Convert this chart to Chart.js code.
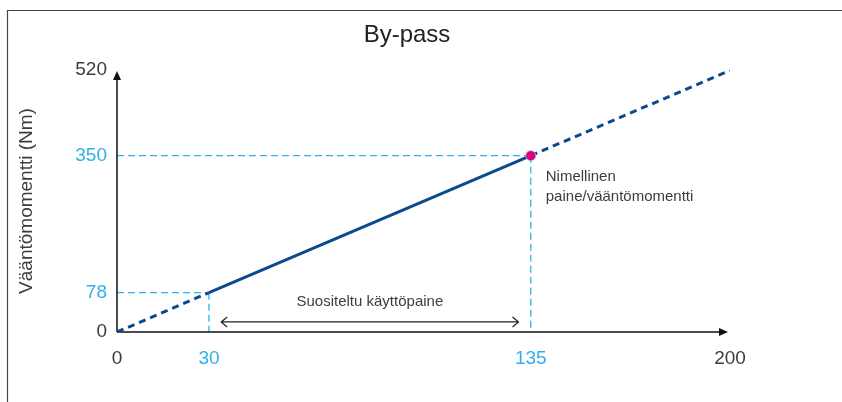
<!DOCTYPE html>
<html>
<head>
<meta charset="utf-8">
<script src="https://cdn.jsdelivr.net/npm/chart.js@4.4.0/dist/chart.umd.min.js"></script>
<style>
  html, body { margin: 0; padding: 0; background: #fff; }
  #wrap { width: 842px; height: 402px; position: relative; }
</style>
</head>
<body>
<div id="wrap"><canvas id="bypass"></canvas></div>
<script>
// data
const pressure = [0, 30, 135, 200];
const torque = [0, 78, 350, 519];
const xTicks = [0, 30, 135, 200];
const yTicks = [0, 78, 350, 520];
const xMarked = [30, 135];
const yMarked = [78, 350];
const ratedPoint = [{ x: 135, y: 350 }];
const recommendedRange = [34, 131];
const recommendedLevel = 20;

const titleText = "By-pass";
const yTitle = "Vääntömomentti (Nm)";
const rangeText = "Suositeltu käyttöpaine";
const ratedText = ["Nimellinen", "paine/vääntömomentti"];

const navy = "#0b4a8c";
const lightBlue = "#2fb1e8";
const magenta = "#e2007a";
const textGray = "#3c3c3c";
const font = "'Liberation Sans', Arial, sans-serif";

const lineData = pressure.map((p, i) => ({ x: p, y: torque[i] }));

const decorations = {
  id: "decorations",
  beforeDatasetsDraw(chart) {
    const ctx = chart.ctx;
    const xs = chart.scales.x;
    const ys = chart.scales.y;
    const x0 = xs.getPixelForValue(0);
    const y0 = ys.getPixelForValue(0);

    // frame
    ctx.save();
    ctx.strokeStyle = "#444";
    ctx.lineWidth = 1.2;
    ctx.beginPath();
    ctx.moveTo(7.5, 402);
    ctx.lineTo(7.5, 10.5);
    ctx.lineTo(842, 10.5);
    ctx.stroke();

    // guide lines to the marked values
    ctx.strokeStyle = lightBlue;
    ctx.lineWidth = 1.3;
    ctx.setLineDash([7, 4]);
    xMarked.forEach((xv, i) => {
      const px = xs.getPixelForValue(xv);
      const py = ys.getPixelForValue(yMarked[i]);
      ctx.beginPath();
      ctx.moveTo(x0, py);
      ctx.lineTo(px, py);
      ctx.moveTo(px, py);
      ctx.lineTo(px, y0);
      ctx.stroke();
    });
    ctx.setLineDash([]);

    // axes with arrow heads
    const xEnd = xs.getPixelForValue(200);
    const yEnd = ys.getPixelForValue(520);
    ctx.strokeStyle = "#111";
    ctx.fillStyle = "#111";
    ctx.lineWidth = 1.5;
    ctx.beginPath();
    ctx.moveTo(x0, y0);
    ctx.lineTo(xEnd - 6, y0);
    ctx.moveTo(x0, y0);
    ctx.lineTo(x0, yEnd + 6);
    ctx.stroke();
    ctx.beginPath();
    ctx.moveTo(xEnd - 2, y0);
    ctx.lineTo(xEnd - 11, y0 - 4);
    ctx.lineTo(xEnd - 11, y0 + 4);
    ctx.closePath();
    ctx.fill();
    ctx.beginPath();
    ctx.moveTo(x0, yEnd + 1);
    ctx.lineTo(x0 - 4, yEnd + 10);
    ctx.lineTo(x0 + 4, yEnd + 10);
    ctx.closePath();
    ctx.fill();

    // recommended range double arrow
    const ax1 = xs.getPixelForValue(recommendedRange[0]);
    const ax2 = xs.getPixelForValue(recommendedRange[1]);
    const ay = ys.getPixelForValue(recommendedLevel);
    ctx.strokeStyle = "#222";
    ctx.lineWidth = 1.2;
    ctx.beginPath();
    ctx.moveTo(ax1, ay);
    ctx.lineTo(ax2, ay);
    ctx.moveTo(ax1 + 6, ay - 5);
    ctx.lineTo(ax1, ay);
    ctx.lineTo(ax1 + 6, ay + 5);
    ctx.moveTo(ax2 - 6, ay - 5);
    ctx.lineTo(ax2, ay);
    ctx.lineTo(ax2 - 6, ay + 5);
    ctx.stroke();
    ctx.restore();
  },
  afterDatasetsDraw(chart) {
    const ctx = chart.ctx;
    const xs = chart.scales.x;
    const ys = chart.scales.y;
    ctx.save();
    ctx.fillStyle = "#222";
    ctx.textAlign = "center";
    ctx.textBaseline = "middle";
    ctx.font = "24px " + font;
    ctx.fillText(titleText, 407, 35);

    ctx.fillStyle = textGray;
    ctx.font = "19px " + font;
    ctx.save();
    ctx.translate(27, (chart.chartArea.top + chart.chartArea.bottom) / 2);
    ctx.rotate(-Math.PI / 2);
    ctx.fillText(yTitle, 0, 0);
    ctx.restore();

    ctx.font = "15px " + font;
    const mid = xs.getPixelForValue((recommendedRange[0] + recommendedRange[1]) / 2);
    ctx.fillText(rangeText, mid, ys.getPixelForValue(recommendedLevel) - 20);

    ctx.textAlign = "left";
    const rx = xs.getPixelForValue(ratedPoint[0].x) + 15;
    const ry = ys.getPixelForValue(ratedPoint[0].y);
    ratedText.forEach((t, i) => ctx.fillText(t, rx, ry + 21 + i * 20));
    ctx.restore();
  }
};

new Chart(document.getElementById("bypass"), {
  type: "scatter",
  data: {
    datasets: [
      {
        data: ratedPoint,
        pointRadius: 5,
        pointBackgroundColor: magenta,
        pointBorderColor: "#7fd0f0",
        pointBorderWidth: 0.8,
        order: 0,
      },
      {
        data: lineData,
        showLine: true,
        borderColor: navy,
        borderWidth: 3,
        pointRadius: 0,
        segment: {
          borderDash: (c) => (c.p0DataIndex === 1 ? [] : [7, 5]),
        },
        order: 1,
      },
    ],
  },
  options: {
    responsive: true,
    maintainAspectRatio: false,
    animation: false,
    layout: { padding: { left: 0, right: 112, top: 70, bottom: 0 } },
    plugins: {
      legend: { display: false },
      tooltip: { enabled: false },
    },
    scales: {
      x: {
        type: "linear",
        min: 0,
        max: 200,
        grid: { display: false },
        border: { display: false },
        afterBuildTicks: (s) => { s.ticks = xTicks.map((v) => ({ value: v })); },
        afterFit: (s) => { s.height = 70; },
        ticks: {
          padding: 7,
          maxRotation: 0,
          font: { family: font, size: 19 },
          color: (c) => (xMarked.includes(c.tick.value) ? lightBlue : textGray),
        },
      },
      y: {
        type: "linear",
        min: 0,
        max: 520,
        grid: { display: false },
        border: { display: false },
        afterBuildTicks: (s) => { s.ticks = yTicks.map((v) => ({ value: v })); },
        afterFit: (s) => { s.width = 117; },
        ticks: {
          padding: 2,
          font: { family: font, size: 19 },
          color: (c) => (yMarked.includes(c.tick.value) ? lightBlue : textGray),
        },
      },
    },
  },
  plugins: [decorations],
});
</script>
</body>
</html>
